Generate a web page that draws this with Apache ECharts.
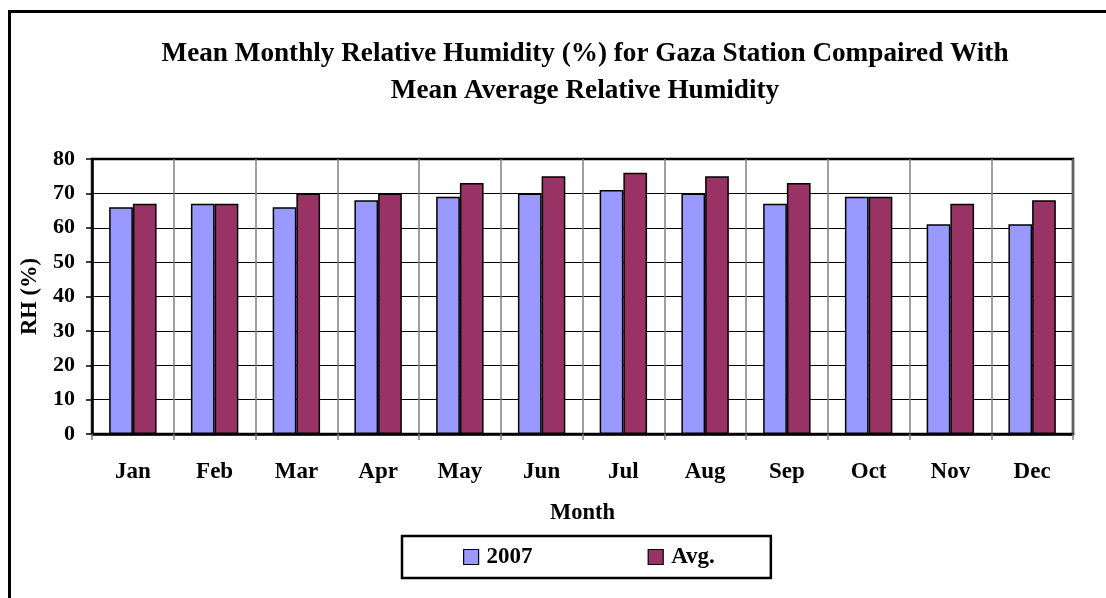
<!DOCTYPE html>
<html>
<head>
<meta charset="utf-8">
<script src="https://cdn.jsdelivr.net/npm/echarts@6/dist/echarts.min.js"></script>
<style>
html,body{margin:0;padding:0;background:#fff;}
#chart{width:1106px;height:598px;}
</style>
</head>
<body>
<div id="chart"></div>
<script>
var months = ['Jan','Feb','Mar','Apr','May','Jun','Jul','Aug','Sep','Oct','Nov','Dec'];
var rh2007 = [66, 67, 66, 68, 69, 70, 71, 70, 67, 69, 61, 61];
var rhAvg = [67, 67, 70, 70, 73, 75, 76, 75, 73, 69, 67, 68];
var yTicks = [0, 10, 20, 30, 40, 50, 60, 70, 80];

var FONT = '"Liberation Serif", "Times New Roman", serif';
var chart = echarts.init(document.getElementById('chart'), null, {renderer: 'canvas'});
chart.setOption({
  animation: false,
  backgroundColor: '#fff',
  title: {
    text: 'Mean Monthly Relative Humidity (%) for Gaza Station Compaired With\nMean Average Relative Humidity',
    left: 585,
    top: 35,
    padding: 0,
    textAlign: 'center',
    textStyle: {fontFamily: FONT, fontWeight: 'bold', fontSize: 27.2, lineHeight: 37, color: '#000'}
  },
  graphic: [{
    type: 'rect',
    silent: true,
    shape: {x: 9.5, y: 11.5, width: 1300, height: 800},
    style: {fill: 'none', stroke: '#000', lineWidth: 3}
  }],
  legend: {
    left: 402,
    top: 536,
    orient: 'horizontal',
    padding: [9.5, 56, 9.5, 61],
    borderColor: '#000',
    borderWidth: 2.5,
    itemWidth: 15,
    itemHeight: 15,
    itemGap: 115,
    icon: 'rect',
    itemStyle: {borderColor: '#000', borderWidth: 1.2},
    textStyle: {fontFamily: FONT, fontWeight: 'bold', fontSize: 23, color: '#000', padding: [0, 0, 0, 3]},
    data: ['2007', 'Avg.']
  },
  grid: {
    left: 92, top: 159, width: 981, height: 275,
    show: true, borderColor: '#000', borderWidth: 2.5, backgroundColor: 'transparent'
  },
  xAxis: {
    type: 'category',
    data: months,
    name: 'Month',
    nameLocation: 'middle',
    nameGap: 68,
    nameTextStyle: {fontFamily: FONT, fontWeight: 'bold', fontSize: 22.5, color: '#000'},
    axisLine: {lineStyle: {color: '#000', width: 2.5}},
    axisTick: {show: true, length: 6, lineStyle: {color: '#808080', width: 1.5}},
    splitLine: {show: true, interval: 0, lineStyle: {color: '#808080', width: 1.5}},
    axisLabel: {fontFamily: FONT, fontWeight: 'bold', fontSize: 23, color: '#000', margin: 27, interval: 0}
  },
  yAxis: {
    type: 'value',
    min: 0, max: 80, interval: 10,
    name: 'RH (%)',
    nameLocation: 'middle',
    nameGap: 50,
    nameRotate: 90,
    nameTextStyle: {fontFamily: FONT, fontWeight: 'bold', fontSize: 22.5, color: '#000'},
    axisLine: {show: true, lineStyle: {color: '#000', width: 2.5}},
    axisTick: {show: true, length: 6, lineStyle: {color: '#000', width: 1.5}},
    splitLine: {show: true, lineStyle: {color: '#000', width: 1.2}},
    axisLabel: {
      fontFamily: FONT, fontWeight: 'bold', fontSize: 22, color: '#000', margin: 17,
      formatter: function (v) { return yTicks.indexOf(v) >= 0 ? String(v) : ''; }
    }
  },
  series: [{
    name: '2007',
    type: 'bar',
    data: rh2007,
    barGap: '0%',
    barCategoryGap: '42%',
    itemStyle: {color: '#9999FF', borderColor: '#000', borderWidth: 1.5}
  }, {
    name: 'Avg.',
    type: 'bar',
    data: rhAvg,
    itemStyle: {color: '#993366', borderColor: '#000', borderWidth: 1.5}
  }]
});
</script>
</body>
</html>
